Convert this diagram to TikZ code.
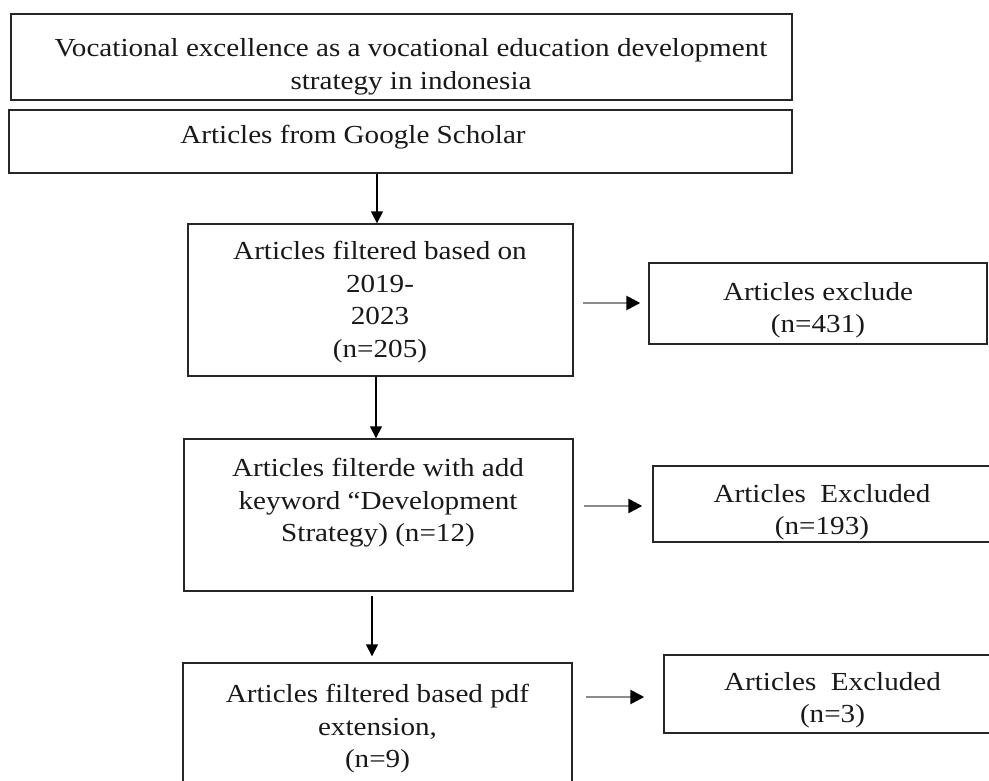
\documentclass[tikz,border=0pt]{standalone}
\usepackage{fontspec}
\setmainfont[FakeStretch=1.12]{Liberation Serif}
\usetikzlibrary{arrows.meta,calc}
\tikzset{
  box/.style={draw=black!85, line width=1.4pt, rectangle, inner sep=0pt},
  txt/.style={font=\fontsize{26}{32.5}\selectfont, align=center, inner sep=0pt, text=black!90},
  varr/.style={draw=black, line width=1.6pt, -{Triangle[length=12pt,width=12pt]}},
  harr/.style={draw=black!45, line width=2.6pt, -{Triangle[length=14pt,width=14pt,color=black]}}
}
\begin{document}
\begin{tikzpicture}[x=1pt,y=-1pt]
\useasboundingbox (0,0) rectangle (989,781);
\clip (0,0) rectangle (989,781);
\fill[white] (0,0) rectangle (989,781);
% boxes
\node[box, minimum width=781, minimum height=86] (b1) at (401.5,57) {};
\node[box, minimum width=783, minimum height=63] (b2) at (400.5,141.5) {};
\node[box, minimum width=385, minimum height=152] (b3) at (380.5,300) {};
\node[box, minimum width=338, minimum height=81] (b4) at (818,303.5) {};
\node[box, minimum width=389, minimum height=152] (b5) at (378.5,515) {};
\node[box, minimum width=345, minimum height=76] (b6) at (825.5,504) {};
\node[box, minimum width=389, minimum height=140] (b7) at (377.5,733) {};
\node[box, minimum width=336, minimum height=78] (b8) at (832,694) {};
% texts
\node[txt] (t1) at (411,67) {Vocational excellence as a vocational education development\\strategy in indonesia};
\node[txt] (t2) at (353,137) {Articles from Google Scholar};
\node[txt] (t3) at (380,302) {Articles filtered based on\\2019-\\2023\\(n=205)};
\node[txt] (t4) at (818,310) {Articles exclude\\(n=431)};
\node[txt] (t5) at (378,503) {Articles filterde with add\\keyword ``Development\\Strategy) (n=12)};
\node[txt] (t6) at (822,512) {Articles\ \ Excluded\\(n=193)};
\node[txt] (t7) at (377.5,729) {Articles filtered based pdf\\extension,\\(n=9)};
\node[txt] (t8) at (832.5,700) {Articles\ \ Excluded\\(n=3)};
% vertical arrows
\draw[varr] (b2.south -| 377,0) -- (b3.north -| 377,0);
\draw[varr] (b3.south -| 376,0) -- (b5.north -| 376,0);
\draw[varr] ($(b5.south -| 372,0)+(0,4)$) -- ($(b7.north -| 372,0)+(0,-6)$);
% horizontal arrows
\draw[harr] ($(b3.east |- 0,303)+(9,0)$) -- ($(b4.west |- 0,303)+(-8,0)$);
\draw[harr] ($(b5.east |- 0,506)+(10,0)$) -- ($(b6.west |- 0,506)+(-10,0)$);
\draw[harr] ($(b7.east |- 0,697)+(13,0)$) -- ($(b8.west |- 0,697)+(-19,0)$);
\end{tikzpicture}
\end{document}
